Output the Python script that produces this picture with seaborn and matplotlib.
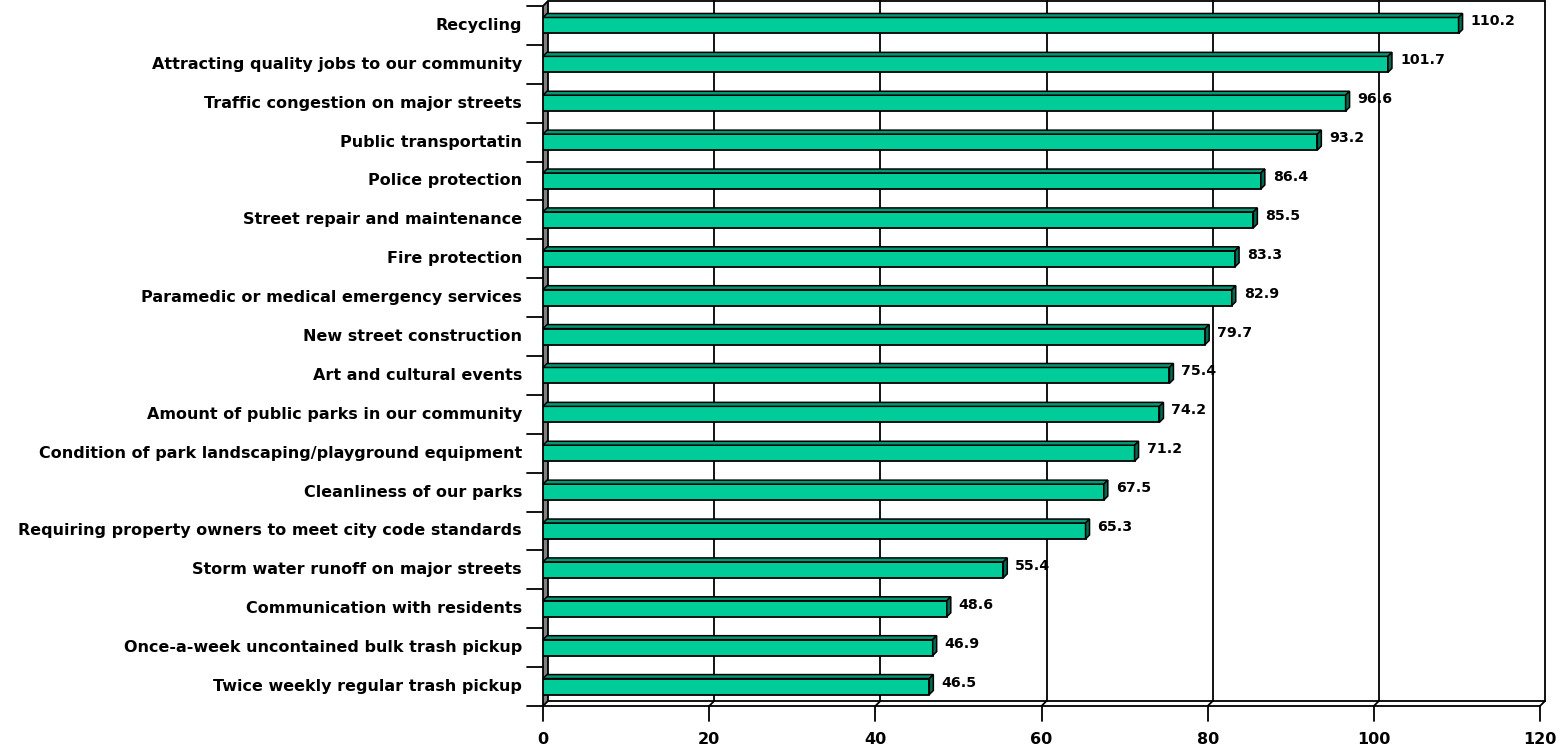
import matplotlib
matplotlib.use("Agg")
import matplotlib.pyplot as plt
from matplotlib.patches import Polygon
from matplotlib.lines import Line2D
import seaborn as sns
import pandas as pd

categories = [
    "Recycling",
    "Attracting quality jobs to our community",
    "Traffic congestion on major streets",
    "Public transportatin",
    "Police protection",
    "Street repair and maintenance",
    "Fire protection",
    "Paramedic or medical emergency services",
    "New street construction",
    "Art and cultural events",
    "Amount of public parks in our community",
    "Condition of park landscaping/playground equipment",
    "Cleanliness of our parks",
    "Requiring property owners to meet city code standards",
    "Storm water runoff on major streets",
    "Communication with residents",
    "Once-a-week uncontained bulk trash pickup",
    "Twice weekly regular trash pickup",
]
values = [110.2, 101.7, 96.6, 93.2, 86.4, 85.5, 83.3, 82.9, 79.7, 75.4,
          74.2, 71.2, 67.5, 65.3, 55.4, 48.6, 46.9, 46.5]
x_ticks = [0, 20, 40, 60, 80, 100, 120]

df = pd.DataFrame({"category": categories, "value": values})

sns.set_theme(style="white")
plt.rcParams["font.family"] = ["DejaVu Sans"]

W, H, DPI = 1557, 746, 100
fig = plt.figure(figsize=(W / DPI, H / DPI), dpi=DPI)
# front plane of plot area in pixel coords
L, R, T, B = 543, 1540, 6, 706
ax = fig.add_axes([L / W, (H - B) / H, (R - L) / W, (B - T) / H])
ax.set_zorder(3)
ax.patch.set_alpha(0)

FRONT = "#00CC99"
TOP = "#009977"
SIDE = "#006B50"

sns.barplot(data=df, y="category", x="value", orient="h", color=FRONT,
            width=0.41, edgecolor="black", linewidth=1.3, saturation=1,
            ax=ax, zorder=5)

ax.set_xlim(x_ticks[0], x_ticks[-1])
ax.set_ylim(len(categories) - 0.5, -0.5)
ax.set_xlabel("")
ax.set_ylabel("")
for s in ax.spines.values():
    s.set_visible(False)
ax.set_xticks([])
ax.set_yticks([])

CAT_FONT = dict(fontsize=11.5, fontweight="bold", color="black")
TICK_FONT = dict(fontsize=11.5, fontweight="bold", color="black")
VAL_FONT = dict(fontsize=10.2, fontweight="bold", color="black")

D = 5    # wall depth in px
BD = 4   # bar depth in px

def px(xd, yd):
    """data -> display px"""
    return ax.transData.transform((xd, yd))

fig.canvas.draw()

# left wall
x0b, yb = px(0, len(categories) - 0.5)
x0t, yt = px(0, -0.5)
wall = Polygon([(x0b, yb), (x0b + D, yb + D), (x0t + D, yt + D), (x0t, yt)],
               closed=True, transform=None, facecolor="#808080",
               edgecolor="black", linewidth=1.3, zorder=2)
fig.add_artist(wall)

# back wall frame and gridlines
x_end, _ = px(x_ticks[-1], 0)
lines = []
lines.append(([x0t + D, x_end + D], [yt + D, yt + D]))           # top back
lines.append(([x_end + D, x_end + D], [yt + D, yb + D]))         # right back
lines.append(([x0b + D, x_end + D], [yb + D, yb + D]))           # floor back
lines.append(([x0b, x_end], [yb, yb]))                           # floor front
lines.append(([x_end, x_end + D], [yb, yb + D]))                 # floor right
for t in x_ticks[1:-1]:
    xt, _ = px(t, 0)
    lines.append(([xt + D, xt + D], [yb + D, yt + D]))
    lines.append(([xt, xt + D], [yb, yb + D]))
for xs, ys in lines:
    fig.add_artist(Line2D(xs, ys, transform=None, color="black",
                          linewidth=1.3, zorder=1))

# x ticks and labels
for t in x_ticks:
    xt, _ = px(t, 0)
    fig.add_artist(Line2D([xt, xt], [yb, yb - 15], transform=None,
                          color="black", linewidth=1.3, zorder=3))
    fig.text(xt / W, (yb - 33) / H, f"{t}", ha="center", va="center",
             **TICK_FONT)

# y ticks (category boundaries) and labels
for i in range(len(categories) + 1):
    _, yy = px(0, i - 0.5)
    fig.add_artist(Line2D([x0b - 16, x0b], [yy, yy], transform=None,
                          color="black", linewidth=1.3, zorder=3))
for i, c in enumerate(categories):
    _, yy = px(0, i)
    fig.text((x0b - 21) / W, yy / H, c, ha="right", va="center", **CAT_FONT)

# 3D faces of bars and value labels
for p, v in zip(ax.patches, values):
    bx, by = p.get_x(), p.get_y()
    bw, bh = p.get_width(), p.get_height()
    (ax0, ay_top) = px(bx, by)
    (ax1, ay_bot) = px(bx + bw, by + bh)
    top = Polygon([(ax0, ay_top), (ax0 + BD, ay_top + BD),
                   (ax1 + BD, ay_top + BD), (ax1, ay_top)],
                  closed=True, transform=None, facecolor=TOP,
                  edgecolor="black", linewidth=1.1, zorder=6)
    side = Polygon([(ax1, ay_top), (ax1 + BD, ay_top + BD),
                    (ax1 + BD, ay_bot + BD), (ax1, ay_bot)],
                   closed=True, transform=None, facecolor=SIDE,
                   edgecolor="black", linewidth=1.1, zorder=6)
    fig.add_artist(top)
    fig.add_artist(side)
    fig.text((ax1 + BD + 8) / W, ((ay_top + ay_bot) / 2 + 4) / H,
             f"{v:.1f}", ha="left", va="center", zorder=7, **VAL_FONT)

fig.savefig("out.png", dpi=DPI)
